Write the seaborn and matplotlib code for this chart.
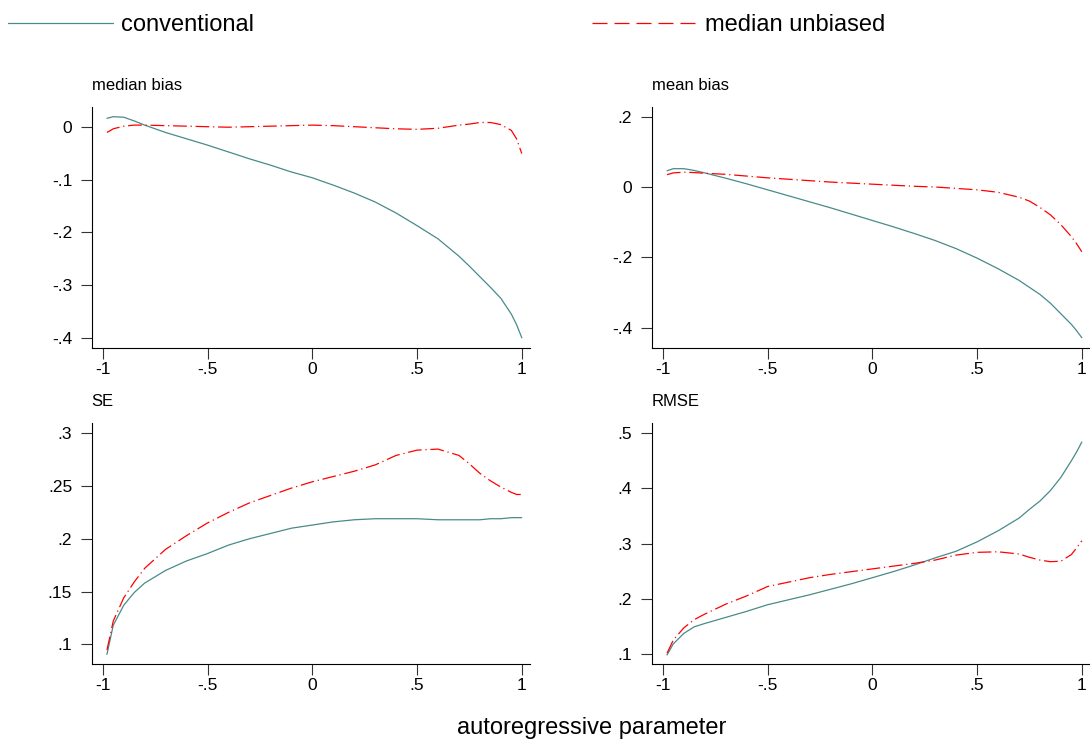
import matplotlib
matplotlib.use("Agg")
import matplotlib.pyplot as plt
import seaborn as sns
from matplotlib.lines import Line2D

# autoregressive parameter grid
rho = [-0.98, -0.95, -0.9, -0.85, -0.8, -0.7, -0.6, -0.5, -0.4, -0.3, -0.2, -0.1, 0.0,
       0.1, 0.2, 0.3, 0.4, 0.5, 0.6, 0.7, 0.75, 0.8, 0.85, 0.9, 0.95, 0.975, 1.0]

# median bias
mb_conv = [0.017, 0.020, 0.019, 0.012, 0.004, -0.010, -0.022, -0.034, -0.047, -0.060, -0.072, -0.085, -0.096,
           -0.110, -0.125, -0.142, -0.163, -0.187, -0.212, -0.245, -0.264, -0.284, -0.304, -0.325, -0.355, -0.375, -0.400]
mb_mu = [-0.010, -0.003, 0.002, 0.004, 0.004, 0.003, 0.002, 0.001, 0.000, 0.001, 0.002, 0.003, 0.004,
         0.003, 0.001, -0.001, -0.003, -0.004, -0.002, 0.004, 0.006, 0.009, 0.009, 0.005, -0.006, -0.022, -0.050]

# mean bias
mnb_conv = [0.046, 0.052, 0.052, 0.047, 0.040, 0.025, 0.009, -0.008, -0.025, -0.042, -0.059, -0.077, -0.095,
            -0.113, -0.132, -0.152, -0.175, -0.202, -0.232, -0.265, -0.285, -0.305, -0.330, -0.360, -0.390, -0.408, -0.428]
mnb_mu = [0.035, 0.040, 0.042, 0.041, 0.039, 0.036, 0.031, 0.026, 0.022, 0.018, 0.014, 0.011, 0.008,
          0.005, 0.002, 0.000, -0.004, -0.008, -0.015, -0.029, -0.040, -0.058, -0.079, -0.107, -0.141, -0.161, -0.184]

# standard error
se_conv = [0.0905, 0.118, 0.137, 0.149, 0.158, 0.170, 0.179, 0.186, 0.194, 0.200, 0.205, 0.210, 0.213,
           0.216, 0.218, 0.219, 0.219, 0.219, 0.218, 0.218, 0.218, 0.218, 0.219, 0.219, 0.220, 0.220, 0.220]
se_mu = [0.0945, 0.122, 0.144, 0.159, 0.172, 0.190, 0.203, 0.215, 0.225, 0.234, 0.241, 0.248, 0.254,
         0.259, 0.264, 0.270, 0.279, 0.284, 0.285, 0.279, 0.271, 0.262, 0.255, 0.249, 0.244, 0.242, 0.242]

# RMSE
rmse_conv = [0.098, 0.118, 0.137, 0.149, 0.155, 0.166, 0.177, 0.189, 0.198, 0.207, 0.217, 0.227, 0.238,
             0.249, 0.261, 0.274, 0.286, 0.303, 0.323, 0.346, 0.362, 0.377, 0.396, 0.420, 0.450, 0.466, 0.484]
rmse_mu = [0.101, 0.125, 0.147, 0.162, 0.172, 0.190, 0.205, 0.222, 0.230, 0.238, 0.244, 0.249, 0.254,
           0.259, 0.264, 0.270, 0.279, 0.284, 0.285, 0.281, 0.275, 0.270, 0.267, 0.268, 0.280, 0.292, 0.305]

x_ticks = [-1, -0.5, 0, 0.5, 1]
x_labels = ["-1", "-.5", "0", ".5", "1"]

sns.set_style("ticks")
plt.rcParams["font.family"] = ["Liberation Sans", "DejaVu Sans"]
plt.rcParams["text.color"] = "black"
plt.rcParams["xtick.labelcolor"] = "black"
plt.rcParams["ytick.labelcolor"] = "black"

teal = "#4a8a8a"
red = "#ff0000"
red_ls = (0, (11, 3, 1, 3))

fig = plt.figure(figsize=(10.9, 7.42), dpi=100)

panels = [
    ("median bias", mb_conv, mb_mu, [0, -0.1, -0.2, -0.3, -0.4], ["0", "-.1", "-.2", "-.3", "-.4"],
     (-0.42, 0.039), [0.0841, 0.5306, 0.4023, 0.3256]),
    ("mean bias", mnb_conv, mnb_mu, [0.2, 0, -0.2, -0.4], [".2", "0", "-.2", "-.4"],
     (-0.458, 0.228), [0.5979, 0.5306, 0.4023, 0.3256]),
    ("SE", se_conv, se_mu, [0.1, 0.15, 0.2, 0.25, 0.3], [".1", ".15", ".2", ".25", ".3"],
     (0.081, 0.310), [0.0841, 0.1047, 0.4023, 0.3256]),
    ("RMSE", rmse_conv, rmse_mu, [0.1, 0.2, 0.3, 0.4, 0.5], [".1", ".2", ".3", ".4", ".5"],
     (0.081, 0.519), [0.5979, 0.1047, 0.4023, 0.3256]),
]

for title, conv, mu, yt, yl, ylim, rect in panels:
    ax = fig.add_axes(rect)
    sns.lineplot(x=rho, y=conv, ax=ax, color=teal, lw=0.9)
    sns.lineplot(x=rho, y=mu, ax=ax, color=red, lw=0.9, linestyle=red_ls)
    ax.set_xlim(-1.053, 1.04)
    ax.set_ylim(*ylim)
    ax.set_xticks(x_ticks)
    ax.set_xticklabels(x_labels)
    ax.set_yticks(yt)
    ax.set_yticklabels(yl)
    ax.set_xlabel("")
    ax.set_ylabel("")
    sns.despine(ax=ax)
    for s in ["left", "bottom"]:
        ax.spines[s].set_linewidth(0.8)
        ax.spines[s].set_color("black")
    ax.tick_params(axis="both", direction="out", length=8, width=0.8, color="#333333",
                   labelsize=12.5, labelcolor="black")
    ax.tick_params(axis="x", pad=2)
    ax.tick_params(axis="y", pad=6)
    ax.set_title(title, loc="left", fontsize=12, pad=12, color="black")

# legend on top, two separate entries
fig.legend(handles=[Line2D([], [], color=teal, lw=0.9)], labels=["conventional"],
           loc="upper left", bbox_to_anchor=(8 / 1090, 1 - 14 / 742), frameon=False, fontsize=17,
           handlelength=4.45, handletextpad=0.34, borderpad=0, borderaxespad=0, labelcolor="black")
fig.legend(handles=[Line2D([], [], color=red, lw=0.9, linestyle=(0, (12, 5.6)))], labels=["median unbiased"],
           loc="upper left", bbox_to_anchor=(592 / 1090, 1 - 14 / 742), frameon=False, fontsize=17,
           handlelength=4.45, handletextpad=0.34, borderpad=0, borderaxespad=0, labelcolor="black")

fig.text(592 / 1090, 1 - 728 / 742, "autoregressive parameter", ha="center", va="center", fontsize=17,
         color="black")

fig.savefig("out.png", dpi=100)
